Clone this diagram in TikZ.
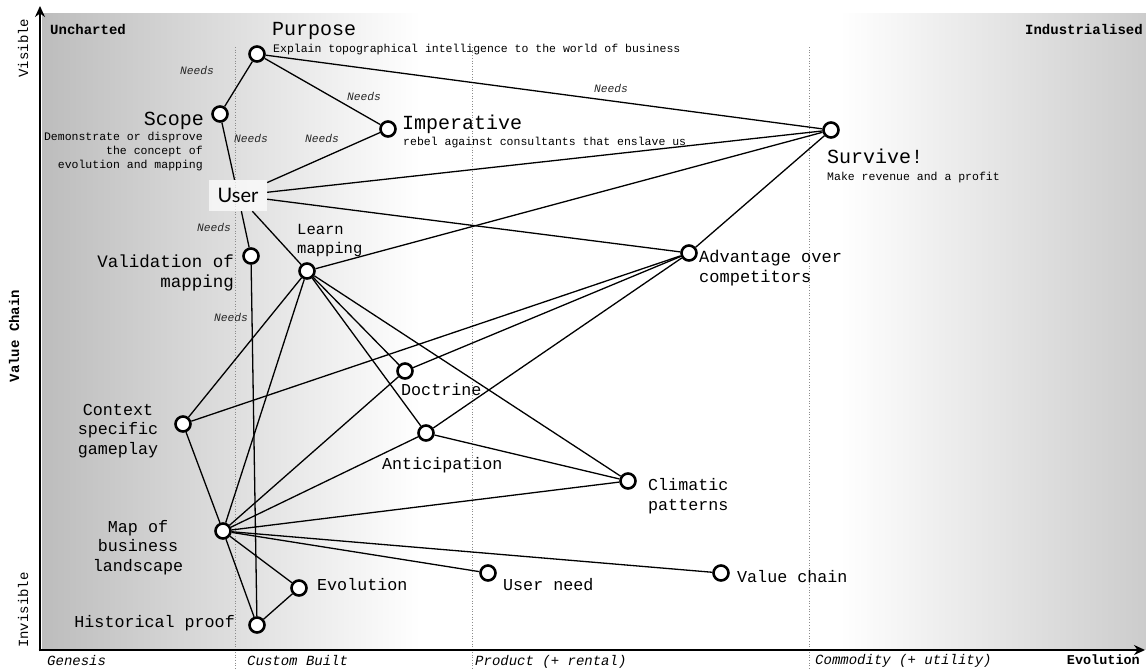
\documentclass[tikz,border=0pt]{standalone}
\usepackage{fontspec}
\setmainfont{Liberation Mono}
\newfontfamily\userfont{Lato}
\usetikzlibrary{arrows.meta}
\definecolor{lgray}{gray}{0.74}
\definecolor{rgray}{gray}{0.80}
\definecolor{dotc}{gray}{0.55}
\begin{document}
\begin{tikzpicture}[x=1pt,y=-1pt,
  comp/.style={circle,draw=black,line width=2.6pt,fill=white,minimum size=15pt,inner sep=0pt},
  link/.style={line width=1.3pt,draw=black},
  need/.style={font=\fontsize{11.3}{13}\selectfont\itshape,text=black!85,inner sep=0pt},
  big/.style={font=\fontsize{20}{22}\selectfont,inner sep=0pt},
  desc/.style={font=\fontsize{11.5}{14}\selectfont,inner sep=0pt},
  lab/.style={font=\fontsize{16.7}{19.5}\selectfont,inner sep=0pt},
  axl/.style={font=\fontsize{14}{16}\selectfont,inner sep=0pt},
  axb/.style={font=\fontsize{14}{16}\selectfont\bfseries,inner sep=0pt},
  axi/.style={font=\fontsize{14}{16}\selectfont\itshape,inner sep=0pt},
  axisline/.style={line width=2.8pt,-{Stealth[length=11pt,width=10pt]}},
  grid/.style={draw=dotc,dotted,line width=0.7pt}
]
\useasboundingbox (0,0) rectangle (1146,670);
% background shading
\shade[left color=lgray,right color=white] (42,13) rectangle (420,649);
\shade[left color=white,right color=rgray] (840,13) rectangle (1146,649);
% evolution stage separators
\coordinate (g1t) at (235,47); \coordinate (g1b) at (235,670);
\coordinate (g2t) at (472,47); \coordinate (g2b) at (472,670);
\coordinate (g3t) at (809,47); \coordinate (g3b) at (809,670);
\draw[grid] (g1t) -- (g1b);
\draw[grid] (g2t) -- (g2b);
\draw[grid] (g3t) -- (g3b);
% axes
\coordinate (ytop) at (40,6);
\coordinate (xend) at (1145,650);
\coordinate (ybot) at (40,651.4);
\coordinate (xbeg) at (38.6,650);
\draw[axisline] (ybot) -- (ytop);
\draw[axisline] (xbeg) -- (xend);
% axis labels
\node[axb,anchor=base west] (unch) at (50,34) {Uncharted};
\node[axb,anchor=base east] (indu) at (1143,34) {Industrialised};
\node[axl,rotate=90] (vis) at (23,48) {Visible};
\node[axb,rotate=90] (vchain) at (14,336) {Value Chain};
\node[axl,rotate=90] (invis) at (23,610) {Invisible};
\node[axi,anchor=base west] (gen) at (47,665) {Genesis};
\node[axi,anchor=base west] (cust) at (247,665) {Custom Built};
\node[axi,anchor=base west] (prod) at (475,665) {Product (+ rental)};
\node[axi,anchor=base west] (comm) at (815,664) {Commodity (+ utility)};
\node[font=\fontsize{13.5}{16}\selectfont\bfseries,inner sep=0pt,anchor=base east] (evol) at (1140,664) {Evolution};
% components
\node[comp] (purpose) at (257,54) {};
\node[comp] (scope) at (220,114) {};
\node[comp] (imper) at (388,129) {};
\node[comp] (survive) at (831,130) {};
\node[draw=none,fill=white,fill opacity=0.7,text opacity=1,minimum width=58pt,minimum height=31pt,inner sep=0pt,font=\userfont\fontsize{20}{22}\selectfont] (user) at (238,195.5) {User};
\node[comp] (valid) at (251,256) {};
\node[comp] (learn) at (307,271) {};
\node[comp] (adv) at (689,253) {};
\node[comp] (doct) at (405,371) {};
\node[comp] (antic) at (426,433) {};
\node[comp] (context) at (183,424) {};
\node[comp] (clim) at (628,481) {};
\node[comp] (map) at (223,531) {};
\node[comp] (evo) at (299,588) {};
\node[comp] (uneed) at (488,573) {};
\node[comp] (vchn) at (721,573) {};
\node[comp] (hist) at (257,625) {};
% component labels (multi-line nodes: base = last line)
\node[big,anchor=base west] (purposeT) at (272,35) {Purpose};
\node[desc,anchor=base west] (purposeD) at (273,52) {Explain topographical intelligence to the world of business};
\node[big,anchor=base east] (scopeT) at (204,125) {Scope};
\node[desc,anchor=base east,align=right] (scopeD) at (203,168) {Demonstrate or disprove\\the concept of\\evolution and mapping};
\node[big,anchor=base west] (imperT) at (402,129) {Imperative};
\node[desc,anchor=base west] (imperD) at (403,145) {rebel against consultants that enslave us};
\node[big,anchor=base west] (surviveT) at (827,163) {Survive!};
\node[desc,anchor=base west] (surviveD) at (827,180) {Make revenue and a profit};
\node[font=\fontsize{17.5}{20}\selectfont,inner sep=0pt,anchor=base east,align=right] (validT) at (234,287) {Validation of\\mapping};
\node[font=\fontsize{15.5}{19}\selectfont,inner sep=0pt,anchor=base west,align=left] (learnT) at (297,253) {Learn\\mapping};
\node[font=\fontsize{17}{20}\selectfont,inner sep=0pt,anchor=base west,align=left] (advT) at (699,282) {Advantage over\\competitors};
\node[lab,anchor=base west] (doctT) at (401,395) {Doctrine};
\node[lab,anchor=base west] (anticT) at (382,469) {Anticipation};
\node[lab,anchor=base west,align=left] (climT) at (648,510) {Climatic\\patterns};
\node[lab,anchor=base,align=center] (contextT) at (118,454) {Context\\specific\\gameplay};
\node[lab,anchor=base,align=center] (mapT) at (138,571) {Map of\\business\\landscape};
\node[lab,anchor=base west] (evoT) at (317,590) {Evolution};
\node[lab,anchor=base west] (uneedT) at (503,590) {User need};
\node[lab,anchor=base west] (vchnT) at (737,582) {Value chain};
\node[lab,anchor=base east] (histT) at (235,627) {Historical proof};
% links
\draw[link] (purpose) -- (scope);
\draw[link] (purpose) -- (imper);
\draw[link] (purpose) -- (survive);
\draw[link] (scope) -- (user);
\draw[link] (user) -- (imper);
\draw[link] (user) -- (survive);
\draw[link] (user) -- (adv);
\draw[link] (user) -- (valid);
\draw[link] (user) -- (learn);
\draw[link] (valid) -- (hist);
\draw[link] (learn) -- (survive);
\draw[link] (learn) -- (context);
\draw[link] (learn) -- (map);
\draw[link] (learn) -- (doct);
\draw[link] (learn) -- (antic);
\draw[link] (learn) -- (clim);
\draw[link] (context) -- (adv);
\draw[link] (context) -- (map);
\draw[link] (doct) -- (adv);
\draw[link] (antic) -- (adv);
\draw[link] (adv) -- (survive);
\draw[link] (map) -- (doct);
\draw[link] (map) -- (antic);
\draw[link] (map) -- (clim);
\draw[link] (map) -- (uneed);
\draw[link] (map) -- (vchn);
\draw[link] (map) -- (evo);
\draw[link] (map) -- (hist);
\draw[link] (antic) -- (clim);
\draw[link] (hist) -- (evo);
% link labels
\node[need] (n1) at (197,70) {Needs};
\node[need] (n2) at (364,96) {Needs};
\node[need] (n3) at (611,88) {Needs};
\node[need] (n4) at (251,138) {Needs};
\node[need] (n5) at (322,138) {Needs};
\node[need] (n6) at (214,227) {Needs};
\node[need] (n7) at (231,317) {Needs};
\end{tikzpicture}
\end{document}
